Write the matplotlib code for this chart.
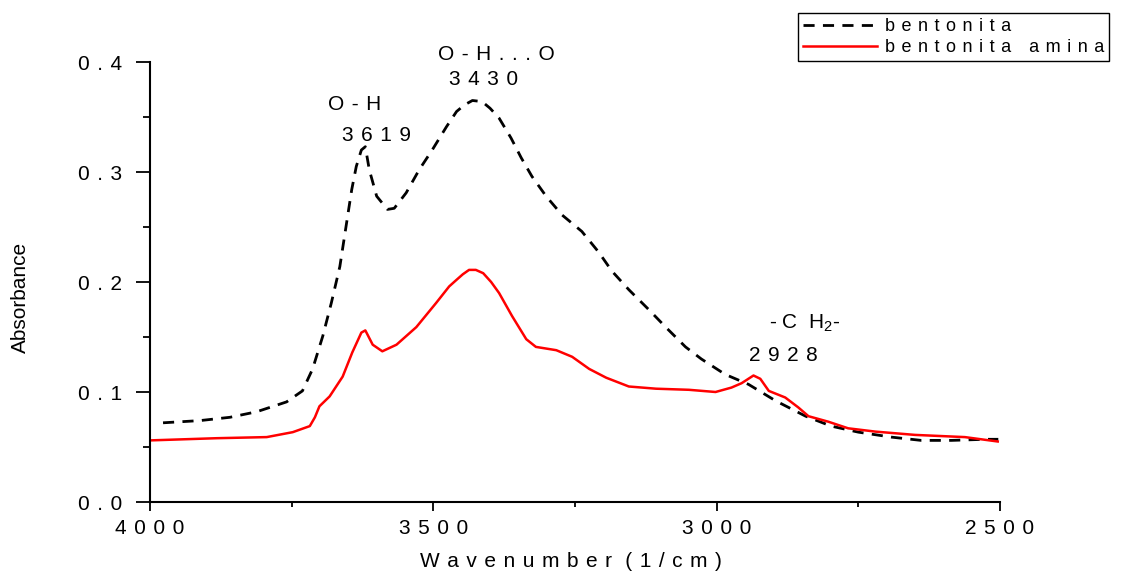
import matplotlib
matplotlib.use('Agg')
import matplotlib.pyplot as plt
from matplotlib.ticker import MultipleLocator

plt.rcParams['font.family'] = ['Liberation Sans', 'DejaVu Sans']
plt.rcParams['mathtext.default'] = 'regular'

bent_x = [3977, 3912, 3859, 3812, 3759, 3731, 3713, 3695, 3680, 3665, 3653, 3644, 3636,
          3627, 3620, 3613, 3600, 3581, 3569, 3548, 3525, 3502, 3477, 3459, 3445, 3431, 3414,
          3400, 3384, 3363, 3345, 3326, 3301, 3273, 3238, 3208, 3185, 3155, 3120, 3090, 3055,
          3027, 2985, 2944, 2896, 2843, 2798, 2750, 2692, 2639, 2586, 2526, 2503]
bent_y = [0.072, 0.074, 0.077, 0.082, 0.091, 0.101, 0.121, 0.151, 0.181, 0.214, 0.254, 0.284,
          0.305, 0.320, 0.323, 0.302, 0.278, 0.266, 0.267, 0.281, 0.302, 0.320, 0.341, 0.355,
          0.361, 0.365, 0.364, 0.358, 0.349, 0.331, 0.313, 0.296, 0.278, 0.261, 0.246, 0.227,
          0.210, 0.193, 0.175, 0.159, 0.141, 0.130, 0.116, 0.107, 0.092, 0.078, 0.069, 0.0635,
          0.059, 0.056, 0.056, 0.057, 0.057]

amina_x = [4000, 3882, 3794, 3748, 3718, 3709, 3701, 3683, 3660, 3643, 3627, 3620, 3607, 3590,
           3565, 3530, 3495, 3472, 3459, 3448, 3437, 3425, 3412, 3398, 3384, 3361, 3336, 3319,
           3283, 3255, 3225, 3195, 3155, 3107, 3049, 3002, 2974, 2956, 2935, 2923, 2908, 2879,
           2856, 2838, 2803, 2768, 2720, 2650, 2562, 2504]
amina_y = [0.056, 0.058, 0.059, 0.0635, 0.069, 0.077, 0.087, 0.096, 0.114, 0.136, 0.154, 0.156,
           0.143, 0.137, 0.143, 0.159, 0.181, 0.196, 0.202, 0.207, 0.211, 0.211, 0.208, 0.200,
           0.190, 0.169, 0.148, 0.141, 0.138, 0.132, 0.121, 0.113, 0.105, 0.103, 0.102, 0.100,
           0.104, 0.108, 0.115, 0.112, 0.101, 0.095, 0.086, 0.078, 0.073, 0.067, 0.064, 0.061,
           0.059, 0.055]

xticks = [4000, 3500, 3000, 2500]
yticks = [0.0, 0.1, 0.2, 0.3, 0.4]
ytick_labels = ['0.0', '0.1', '0.2', '0.3', '0.4']

series_labels = ['bentonita', 'bentonita amina']

# (texto, x, y)
anotaciones = [('O-H', 3639, 0.361), ('3619', 3600, 0.333),
               ('O-H...O', 3389, 0.407), ('3430', 3412, 0.384),
               ('2928', 2882, 0.133)]


def espaciado(s):
    return ' \u200a'.join(s)


fig = plt.figure(figsize=(11.22, 5.78), dpi=100)
ax = fig.add_axes([150 / 1122, 1 - 502 / 578, 850 / 1122, 440 / 578])

ax.plot(bent_x, bent_y, color='black', lw=2.0, linestyle=(0, (4, 3)),
        label=espaciado(series_labels[0]))
ax.plot(amina_x, amina_y, color='#ff0000', lw=1.8, label=espaciado(series_labels[1]))

ax.set_xlim(4000, 2500)
ax.set_ylim(0, 0.4)
ax.spines['top'].set_visible(False)
ax.spines['right'].set_visible(False)
ax.spines['left'].set_linewidth(1.5)
ax.spines['bottom'].set_linewidth(1.5)

ax.set_xticks(xticks, [espaciado(str(t)) for t in xticks])
ax.set_yticks(yticks, [espaciado(t) for t in ytick_labels])
ax.xaxis.set_minor_locator(MultipleLocator(250))
ax.yaxis.set_minor_locator(MultipleLocator(0.05))
ax.tick_params(axis='x', which='major', length=6.5, width=1.3, pad=6, labelsize=15)
ax.tick_params(axis='x', which='minor', length=3.6, width=1.3)
ax.tick_params(axis='y', which='major', length=10, width=1.3, pad=10, labelsize=15)
ax.tick_params(axis='y', which='minor', length=5, width=1.3)

ax.set_xlabel(espaciado('Wavenumber') + ' \u200a ' + espaciado('(1/cm)'), fontsize=15)
ax.xaxis.set_label_coords(0.495, -0.136)
ax.xaxis.label.set_va('center')
ax.set_ylabel('Absorbance', fontsize=15)
ax.yaxis.set_label_coords(-0.152, 0.466)
ax.yaxis.label.set_va('center')

for txt, x, y in anotaciones:
    ax.text(x, y, espaciado(txt), ha='center', va='center', fontsize=15)
ax.text(2845, 0.162, '- C  H$_2$-', ha='center', va='center', fontsize=15)

fig.legend(loc='upper left', bbox_to_anchor=(798 / 1122, 1 - 13 / 578), fontsize=13,
           frameon=True, fancybox=False, edgecolor='black', framealpha=1,
           handlelength=4.1, handletextpad=0.4, labelspacing=0.2, borderpad=0.3,
           borderaxespad=0)

fig.savefig('out.png', dpi=100)
